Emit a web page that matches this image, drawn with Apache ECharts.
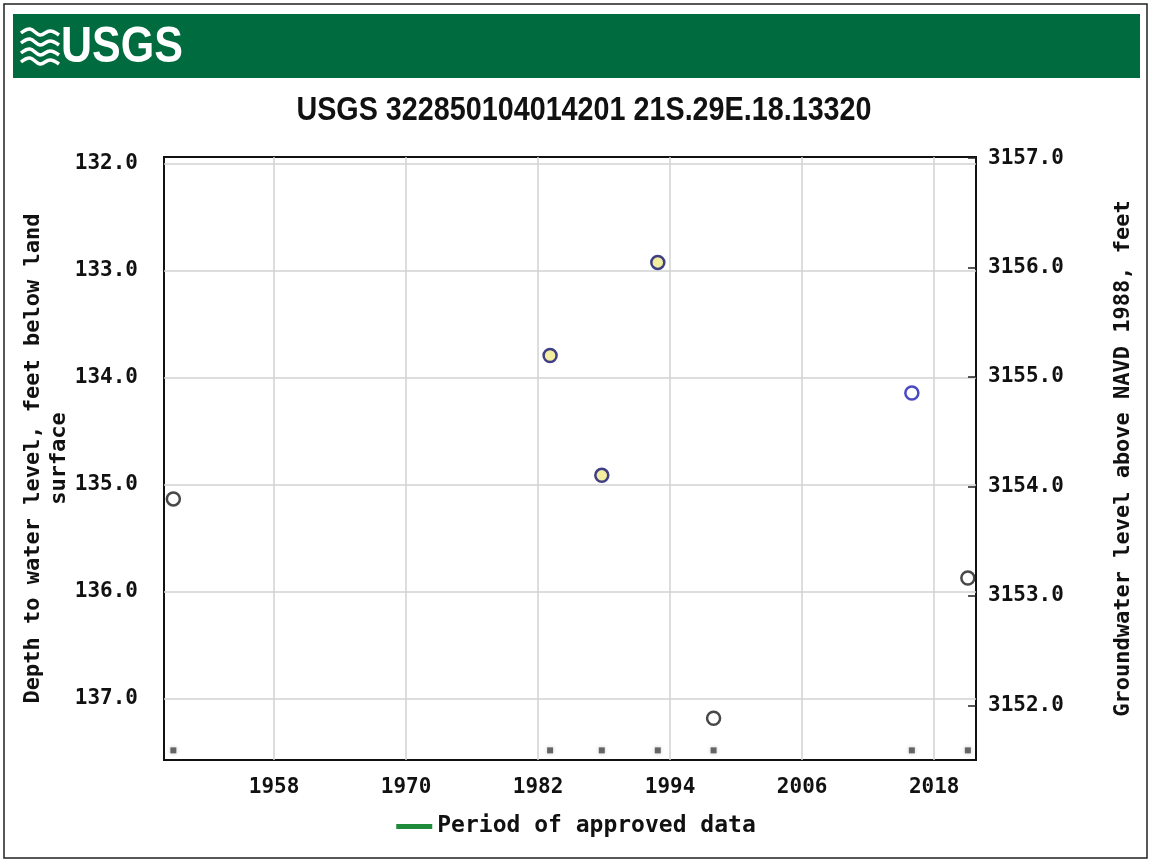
<!DOCTYPE html>
<html>
<head>
<meta charset="utf-8">
<script src="https://cdn.jsdelivr.net/npm/echarts@6/dist/echarts.min.js"></script>
<style>html,body{margin:0;padding:0;background:#fff}#c{width:1152px;height:863px}</style>
</head>
<body>
<div id="c"></div>
<script>
// ---- data ----
const titleText = 'USGS 322850104014201 21S.29E.18.13320';
const years  = [1948.85, 1983.09, 1987.79, 1992.88, 1997.95, 2015.97, 2021.06];
const depths = [135.13, 133.79, 134.91, 132.92, 137.18, 134.14, 135.87];
const pointKind = ['plain', 'approvedYellow', 'approvedYellow', 'approvedYellow', 'plain', 'approvedBlue', 'plain'];
const xTickYears = [1958, 1970, 1982, 1994, 2006, 2018];
const depthTicks = [132, 133, 134, 135, 136, 137];
const elevTicks = [3152, 3153, 3154, 3155, 3156, 3157];
const xRange = [1948.0, 2021.8];
const depthRange = [131.935, 137.57];
const elevRange = [3151.50, 3157.01];
const rugDepth = 137.48;
const legendName = 'Period of approved data';

const kindStyle = {
  plain: {color: '#ffffff', borderColor: '#1a1a1a'},
  approvedYellow: {color: '#efe98a', borderColor: '#101070'},
  approvedBlue: {color: '#ffffff', borderColor: '#1c1cb4'}
};

const mono = 'DejaVu Sans Mono';
const chart = echarts.init(document.getElementById('c'), null, {renderer: 'canvas'});

const pts = years.map((y, i) => ({
  value: [y, depths[i]],
  itemStyle: Object.assign({borderWidth: 2.5}, kindStyle[pointKind[i]])
}));
const rug = years.map(y => [y, rugDepth]);

const wave = (dy) => ({
  type: 'polyline', z: 5,
  shape: {points: [[0, 4 + dy], [9, 0 + dy], [19, 6 + dy], [29, 2 + dy], [38, 6 + dy]], smooth: 0.4},
  style: {stroke: '#ffffff', lineWidth: 3.5, fill: 'none'}
});

const option = {
  backgroundColor: '#ffffff',
  animation: false,
  graphic: [
    {type: 'rect', shape: {x: 4, y: 4, width: 1143, height: 854}, style: {fill: 'none', stroke: '#222', lineWidth: 1.5}, z: 100},
    {type: 'rect', shape: {x: 13, y: 14, width: 1127, height: 64}, style: {fill: '#006b3e'}, z: 1},
    {type: 'text', x: 61, y: 23, scaleX: 0.86, z: 5,
      style: {text: 'USGS', fill: '#ffffff', font: 'bold 50px "Liberation Sans"'}},
    {type: 'group', x: 21, y: 29, z: 5, children: [wave(0), wave(10), wave(20), wave(29)]},
    {type: 'text', x: 584, y: 111, scaleX: 0.845, z: 5,
      style: {text: titleText, fill: '#111', font: 'bold 34px "Liberation Sans"', align: 'center', verticalAlign: 'middle'}}
  ],
  legend: {
    data: [{name: legendName, icon: 'rect'}],
    bottom: 20, left: 'center', itemWidth: 36, itemHeight: 5, itemGap: 10,
    textStyle: {fontFamily: mono, fontWeight: 'bold', fontSize: 23, color: '#111'}
  },
  grid: {left: 164, top: 157, width: 812, height: 603, show: true, borderColor: '#111', borderWidth: 2,
    backgroundColor: 'transparent', outerBoundsMode: 'none', containLabel: false},
  xAxis: {
    type: 'value', min: xRange[0], max: xRange[1],
    axisLine: {show: false}, axisTick: {show: false, customValues: xTickYears},
    axisLabel: {customValues: xTickYears, margin: 17, fontFamily: mono, fontWeight: 'bold', fontSize: 21, color: '#111', formatter: v => String(Math.round(v))},
    splitLine: {show: true, lineStyle: {color: '#d2d2d2', width: 1.5}}
  },
  yAxis: [
    {
      type: 'value', inverse: true, min: depthRange[0], max: depthRange[1], position: 'left',
      name: 'Depth to water level, feet below land\nsurface', nameLocation: 'middle', nameGap: 92, nameRotate: 90,
      nameMoveOverlap: false,
      nameTextStyle: {fontFamily: mono, fontWeight: 'bold', fontSize: 22, color: '#111', lineHeight: 26},
      axisLine: {show: false}, axisTick: {show: false, customValues: depthTicks},
      axisLabel: {customValues: depthTicks, margin: 26, fontFamily: mono, fontWeight: 'bold', fontSize: 21, color: '#111', formatter: v => v.toFixed(1)},
      splitLine: {show: true, lineStyle: {color: '#d2d2d2', width: 1.5}}
    },
    {
      type: 'value', min: elevRange[0], max: elevRange[1], position: 'right',
      name: 'Groundwater level above NAVD 1988, feet', nameLocation: 'middle', nameGap: 136, nameRotate: 90,
      nameTextStyle: {fontFamily: mono, fontWeight: 'bold', fontSize: 22, color: '#111'},
      axisLine: {show: false},
      axisTick: {show: true, inside: true, length: 8, customValues: elevTicks, lineStyle: {color: '#222', width: 1.5}},
      axisLabel: {customValues: elevTicks, margin: 12, fontFamily: mono, fontWeight: 'bold', fontSize: 21, color: '#111', formatter: v => v.toFixed(1)},
      splitLine: {show: false}
    }
  ],
  series: [
    {
      name: legendName, type: 'line', data: [], color: '#1e8a3c', itemStyle: {color: '#1e8a3c'}, lineStyle: {color: '#1e8a3c', width: 5}
    },
    {
      name: 'rug', type: 'scatter', yAxisIndex: 0, data: rug, symbol: 'rect', symbolSize: 6,
      itemStyle: {color: '#454545', shadowBlur: 4, shadowColor: 'rgba(0,0,0,0.25)'}, z: 3, silent: true
    },
    {
      name: 'points', type: 'scatter', yAxisIndex: 0, data: pts, symbol: 'circle', symbolSize: 13, z: 5
    }
  ]
};
chart.setOption(option);
</script>
</body>
</html>
